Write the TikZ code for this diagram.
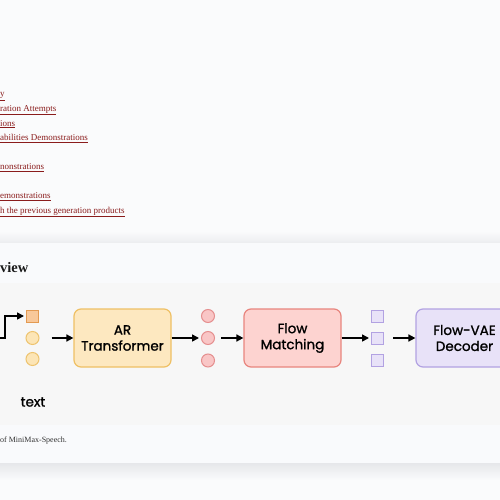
\documentclass[tikz,border=0pt]{standalone}
\usepackage{fontspec}
\setmainfont{Liberation Serif}
\newfontfamily\diagfont[FakeBold=1.2]{Poppins}
\usetikzlibrary{arrows.meta,calc}
\definecolor{pagebg}{HTML}{FAFBFC}
\definecolor{cardbg}{HTML}{F9FAFC}
\definecolor{figbg}{HTML}{F7F7F7}
\definecolor{shadowc}{HTML}{E6E7EA}
\definecolor{linkc}{HTML}{8A1C1C}
\definecolor{capc}{HTML}{333333}
\definecolor{arfill}{HTML}{FDE8C0}
\definecolor{ardraw}{HTML}{EFC064}
\definecolor{sqfill}{HTML}{F8C89A}
\definecolor{sqdraw}{HTML}{E39A52}
\definecolor{ycfill}{HTML}{FCE5B6}
\definecolor{ycdraw}{HTML}{EEC470}
\definecolor{fmfill}{HTML}{FDD3D0}
\definecolor{fmdraw}{HTML}{E8857E}
\definecolor{pcfill}{HTML}{F9C6C6}
\definecolor{pcdraw}{HTML}{E58F8F}
\definecolor{vfill}{HTML}{E8E2F8}
\definecolor{vdraw}{HTML}{B2A2E2}
\tikzset{
  linktext/.style={anchor=base west, inner sep=0pt, text=linkc, font=\fontsize{9}{9}\selectfont},
  bigbox/.style={draw, line width=1.2pt, rounded corners=7pt, minimum width=97pt, minimum height=58pt, align=center, font=\diagfont\fontsize{13.5}{16}\selectfont, inner sep=0pt},
  tok/.style={draw, line width=1pt, minimum size=12pt, inner sep=0pt},
  ctok/.style={draw, circle, line width=1pt, minimum size=13pt, inner sep=0pt},
  arr/.style={line width=1.6pt, -{Triangle[length=7pt,width=7pt]}},
}
\begin{document}
\begin{tikzpicture}[x=1pt,y=-1pt]
\useasboundingbox (0,0) rectangle (500,500);
\fill[pagebg] (0,0) rectangle (500,500);
% card shadow and card
\shade[top color=pagebg, bottom color=shadowc!70!pagebg] (0,231) rectangle (500,243);
\shade[top color=shadowc, bottom color=pagebg] (0,463) rectangle (500,480);
\fill[cardbg] (0,243) rectangle (500,463);
\fill[figbg] (0,283) rectangle (500,425);
% links
\node[linktext] (l1) at (0,96.5) {\underline{y}};
\node[linktext] (l2) at (0,111) {\underline{ration Attempts}};
\node[linktext] (l3) at (0,126) {\underline{ions}};
\node[linktext] (l4) at (0,140.5) {\underline{abilities Demonstrations}};
\node[linktext] (l5) at (0,169.5) {\underline{nonstrations}};
\node[linktext] (l6) at (0,198.5) {\underline{emonstrations}};
\node[linktext] (l7) at (0,213) {\underline{h the previous generation products}};
% heading
\node[anchor=base west, inner sep=0pt, font=\bfseries\fontsize{14.5}{14.5}\selectfont, text=black!90] (head) at (0,272) {view};
% caption
\node[anchor=base west, inner sep=0pt, font=\fontsize{8}{8}\selectfont, text=capc] (cap) at (0,442.5) {of MiniMax-Speech.};
% diagram
\coordinate (start) at (0,338);
\node[tok, fill=sqfill, draw=sqdraw] (s1) at (32.5,316) {};
\node[ctok, fill=ycfill, draw=ycdraw] (y2) at (32.5,338) {};
\node[ctok, fill=ycfill, draw=ycdraw] (y3) at (32.5,359) {};
\node[font=\diagfont\fontsize{13.5}{14}\selectfont, inner sep=0pt] (txt) at (33,402) {text};
\node[bigbox, fill=arfill, draw=ardraw] (ar) at (122.5,338) {AR\\Transformer};
\node[ctok, fill=pcfill, draw=pcdraw] (p1) at (208,316) {};
\node[ctok, fill=pcfill, draw=pcdraw] (p2) at (208,338) {};
\node[ctok, fill=pcfill, draw=pcdraw] (p3) at (208,360.5) {};
\node[bigbox, fill=fmfill, draw=fmdraw] (fm) at (292.5,338) {Flow\\Matching};
\node[tok, fill=vfill, draw=vdraw] (v1) at (377.5,316) {};
\node[tok, fill=vfill, draw=vdraw] (v2) at (377.5,338) {};
\node[tok, fill=vfill, draw=vdraw] (v3) at (377.5,360.5) {};
\node[bigbox, fill=vfill, draw=vdraw] (vae) at (464.5,338) {Flow-VAE\\Decoder};
% arrows
\draw[arr] (start) -- ++(5,0) |- ([xshift=-2pt]s1.west);
\draw[arr] ([xshift=12pt]y2.east) -- (ar.west);
\draw[arr] (ar.east) -- ([xshift=-2pt]p2.west);
\draw[arr] ([xshift=6pt]p2.east) -- (fm.west);
\draw[arr] (fm.east) -- ([xshift=-2pt]v2.west);
\draw[arr] ([xshift=9pt]v2.east) -- (vae.west);
\end{tikzpicture}
\end{document}
